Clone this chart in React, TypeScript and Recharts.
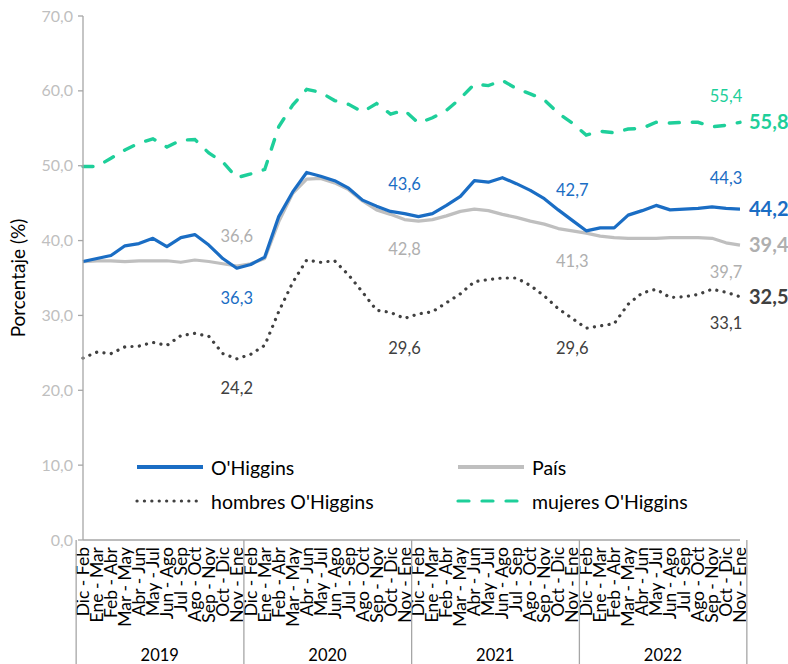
import React from "react";
import { LineChart, Line, XAxis, YAxis, Legend, LabelList } from "recharts";

const periods = [
  "Dic - Feb", "Ene - Mar", "Feb - Abr", "Mar - May", "Abr - Jun", "May - Jul",
  "Jun - Ago", "Jul - Sep", "Ago - Oct", "Sep - Nov", "Oct - Dic", "Nov - Ene",
];
const years = ["2019", "2020", "2021", "2022"];

const ohiggins = [
  37.2, 37.6, 38.0, 39.3, 39.6, 40.3, 39.2, 40.4, 40.8, 39.4, 37.6, 36.3,
  36.8, 37.8, 43.2, 46.5, 49.1, 48.6, 48.0, 47.0, 45.4, 44.6, 43.9, 43.6,
  43.2, 43.6, 44.7, 45.9, 48.0, 47.8, 48.4, 47.6, 46.7, 45.6, 44.1, 42.7,
  41.3, 41.7, 41.7, 43.4, 44.0, 44.7, 44.1, 44.2, 44.3, 44.5, 44.3, 44.2,
];
const pais = [
  37.2, 37.3, 37.3, 37.2, 37.3, 37.3, 37.3, 37.1, 37.4, 37.2, 36.9, 36.6,
  36.9, 37.6, 42.5, 46.3, 48.2, 48.3, 47.7, 46.8, 45.3, 44.1, 43.5, 42.8,
  42.6, 42.8, 43.3, 43.9, 44.2, 44.0, 43.5, 43.1, 42.6, 42.2, 41.6, 41.3,
  41.0, 40.6, 40.4, 40.3, 40.3, 40.3, 40.4, 40.4, 40.4, 40.3, 39.7, 39.4,
];
const hombres = [
  24.3, 25.1, 24.9, 25.8, 25.9, 26.4, 26.0, 27.3, 27.6, 27.2, 24.9, 24.2,
  24.8, 26.0, 30.5, 34.4, 37.4, 37.1, 37.3, 35.4, 33.1, 30.7, 30.4, 29.6,
  30.2, 30.5, 31.7, 32.9, 34.5, 34.8, 35.0, 35.0, 34.0, 32.6, 30.9, 29.6,
  28.3, 28.6, 28.9, 31.5, 33.0, 33.5, 32.4, 32.5, 32.8, 33.5, 33.1, 32.5,
];
const mujeres = [
  49.9, 49.9, 51.0, 52.1, 53.0, 53.6, 52.5, 53.4, 53.5, 51.7, 50.5, 48.4,
  48.9, 49.5, 55.2, 58.1, 60.2, 59.8, 58.7, 58.2, 57.2, 58.3, 56.9, 57.4,
  55.7, 56.4, 57.4, 59.0, 60.9, 60.7, 61.4, 60.3, 59.6, 58.8, 57.0, 55.7,
  54.1, 54.6, 54.4, 54.9, 55.0, 55.8, 55.7, 55.8, 55.8, 55.2, 55.4, 55.8,
];
const yTicks = [0, 10, 20, 30, 40, 50, 60, 70];

const data = years.flatMap((yr, yi) =>
  periods.map((p, pi) => {
    const i = yi * 12 + pi;
    return {
      label: p,
      year: yr,
      ohiggins: ohiggins[i],
      pais: pais[i],
      hombres: hombres[i],
      mujeres: mujeres[i],
    };
  })
);

const W = 788;
const H = 664;
const FONT = "Lato, 'Noto Sans', sans-serif";
const BLUE = "#1A6DC4";
const GRAY = "#BFBFBF";
const GRAYTXT = "#AFAFAF";
const DARK = "#404040";
const TEAL = "#1ECF9A";
const AXIS = "#A6A6A6";
const MARGIN = { top: 16, right: 48, left: 0, bottom: 0 };
const XAXIS_H = 124;
const PLOT_BOTTOM = H - MARGIN.bottom - XAXIS_H;

const fmt = (v: number) => v.toFixed(1).replace(".", ",");

const XTick = (props: any) => {
  const { x, payload, index } = props;
  const half = payload && payload.offset ? payload.offset : 6.85;
  const yearIdx = Math.floor(index / 12);
  return (
    <g>
      <text
        transform={`translate(${x + 6},${PLOT_BOTTOM + 7}) rotate(-90)`}
        textAnchor="end"
        fontSize={17.5}
        fontFamily={FONT}
        fill="#000"
      >
        {payload.value}
      </text>
      {index % 12 === 0 && (
        <line x1={x - half} x2={x - half} y1={PLOT_BOTTOM} y2={H} stroke={AXIS} strokeWidth={1.3} />
      )}
      {index === data.length - 1 && (
        <line x1={x + half} x2={x + half} y1={PLOT_BOTTOM} y2={H} stroke={AXIS} strokeWidth={1.3} />
      )}
      {index % 12 === 5 && (
        <text
          x={x + half}
          y={PLOT_BOTTOM + 121}
          textAnchor="middle"
          fontSize={16.5}
          fontFamily={FONT}
          fill="#000"
        >
          {years[yearIdx]}
        </text>
      )}
    </g>
  );
};

const YTick = (props: any) => {
  const { x, y, payload } = props;
  return (
    <text x={x - 3} y={y} dy={5.5} textAnchor="end" fontSize={16} fontFamily={FONT} fill={GRAY}>
      {fmt(payload.value)}
    </text>
  );
};

const makeLabels = (color: string, marks: Record<number, number>, finalColor: string) => (props: any) => {
  const { x, y, index, value } = props;
  if (index === data.length - 1) {
    return (
      <text x={x + 9} y={y} dy={7} textAnchor="start" fontSize={20} fontWeight={700} fontFamily={FONT} fill={finalColor}>
        {fmt(value)}
      </text>
    );
  }
  if (marks[index] === undefined) return null;
  return (
    <text x={x} y={y + marks[index]} dy={5.5} textAnchor="middle" fontSize={16.5} fontFamily={FONT} fill={color}>
      {fmt(value)}
    </text>
  );
};

const blueLabels = makeLabels(BLUE, { 11: 30, 23: -29, 35: -30, 46: -30 }, BLUE);
const grayLabels = makeLabels(GRAYTXT, { 11: -30, 23: 30, 35: 31, 46: 30 }, GRAYTXT);
const darkLabels = makeLabels(DARK, { 11: 30, 23: 30, 35: 30, 46: 31 }, DARK);
const tealLabels = makeLabels(TEAL, { 46: -29 }, TEAL);

const legendItems = [
  { name: "O'Higgins", color: BLUE, dash: undefined as string | undefined, cap: "butt" },
  { name: "País", color: GRAY, dash: undefined, cap: "butt" },
  { name: "hombres O'Higgins", color: DARK, dash: "0.1 7.3", cap: "round" },
  { name: "mujeres O'Higgins", color: TEAL, dash: "11 13", cap: "round" },
];

const LegendContent = () => (
  <div style={{ display: "grid", gridTemplateColumns: "321px 300px", rowGap: 10, fontFamily: FONT }}>
    {legendItems.map((it) => (
      <div key={it.name} style={{ display: "flex", alignItems: "center", height: 24 }}>
        <svg width={70} height={10} style={{ marginRight: 6 }}>
          <line
            x1={2}
            x2={68}
            y1={5}
            y2={5}
            stroke={it.color}
            strokeWidth={it.cap === "round" ? 3.2 : 4}
            strokeDasharray={it.dash}
            strokeLinecap={it.cap as any}
          />
        </svg>
        <span style={{ fontSize: 19.5, color: "#000" }}>{it.name}</span>
      </div>
    ))}
  </div>
);

export default function App() {
  return (
    <div style={{ position: "absolute", left: 0, top: 0, width: W, height: H, background: "#fff" }}>
      <LineChart width={W} height={H} data={data} margin={MARGIN}>
        <XAxis
          dataKey="label"
          interval={0}
          height={XAXIS_H}
          tickLine={false}
          axisLine={{ stroke: AXIS, strokeWidth: 1.3 }}
          tick={<XTick />}
        />
        <YAxis
          domain={[0, 70]}
          ticks={yTicks}
          width={83}
          tickSize={5}
          tickLine={{ stroke: AXIS, strokeWidth: 1.3 }}
          axisLine={{ stroke: AXIS, strokeWidth: 1.3 }}
          tick={<YTick />}
          label={{
            value: "Porcentaje (%)",
            angle: -90,
            position: "insideLeft",
            offset: 18,
            style: { textAnchor: "middle", fontSize: 19, fontFamily: FONT, fill: "#000" },
          }}
        />
        <Legend
          layout="horizontal"
          verticalAlign="middle"
          align="center"
          wrapperStyle={{ position: "absolute", left: 135, top: 455, width: 640 }}
          content={<LegendContent />}
        />
        <Line
          dataKey="pais"
          name="País"
          stroke={GRAY}
          strokeWidth={3.2}
          dot={false}
          isAnimationActive={false}
          strokeLinejoin="round"
        >
          <LabelList dataKey="pais" content={grayLabels} />
        </Line>
        <Line
          dataKey="ohiggins"
          name="O'Higgins"
          stroke={BLUE}
          strokeWidth={3.2}
          dot={false}
          isAnimationActive={false}
          strokeLinejoin="round"
        >
          <LabelList dataKey="ohiggins" content={blueLabels} />
        </Line>
        <Line
          dataKey="hombres"
          name="hombres O'Higgins"
          stroke={DARK}
          strokeWidth={3.2}
          strokeDasharray="0.1 7.3"
          strokeLinecap="round"
          dot={false}
          isAnimationActive={false}
        >
          <LabelList dataKey="hombres" content={darkLabels} />
        </Line>
        <Line
          dataKey="mujeres"
          name="mujeres O'Higgins"
          stroke={TEAL}
          strokeWidth={3.4}
          strokeDasharray="10 13"
          strokeLinecap="round"
          dot={false}
          isAnimationActive={false}
        >
          <LabelList dataKey="mujeres" content={tealLabels} />
        </Line>
      </LineChart>
    </div>
  );
}
